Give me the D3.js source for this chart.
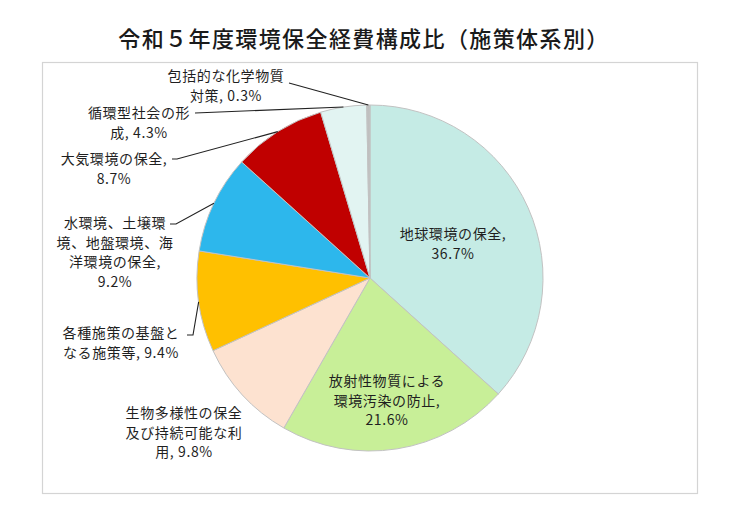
<!DOCTYPE html>
<html>
<head>
<meta charset="utf-8">
<script src="https://cdn.jsdelivr.net/npm/d3@7"></script>
<style>
  html, body { margin: 0; padding: 0; background: #fff; }
  svg { display: block; }
  text { font-family: "Noto Sans CJK JP", "Noto Sans", sans-serif; }
</style>
</head>
<body>
<svg id="chart" width="750" height="519"></svg>
<script>
// ---- data ----
const title = "令和５年度環境保全経費構成比（施策体系別）";
const categories = [
  "地球環境の保全",
  "放射性物質による環境汚染の防止",
  "生物多様性の保全及び持続可能な利用",
  "各種施策の基盤となる施策等",
  "水環境、土壌環境、地盤環境、海洋環境の保全",
  "大気環境の保全",
  "循環型社会の形成",
  "包括的な化学物質対策"
];
const values = [36.7, 21.6, 9.8, 9.4, 9.2, 8.7, 4.3, 0.3];
const colors = ["#c5ebe5", "#c8ef98", "#fde2d0", "#ffc000", "#2db7ec", "#c00000", "#e2f4f2", "#bfbfbf"];
// label line breaks ({v} = value)
const labelLines = [
  ["地球環境の保全,", "{v}%"],
  ["放射性物質による", "環境汚染の防止,", "{v}%"],
  ["生物多様性の保全", "及び持続可能な利", "用, {v}%"],
  ["各種施策の基盤と", "なる施策等, {v}%"],
  ["水環境、土壌環", "境、地盤環境、海", "洋環境の保全,", "{v}%"],
  ["大気環境の保全,", "{v}%"],
  ["循環型社会の形", "成, {v}%"],
  ["包括的な化学物質", "対策, {v}%"]
];

// ---- layout (positions kept separate from data) ----
const W = 750, H = 519;
const cx = 370, cy = 278, R = 173;
const lineH = 19.5;
// label centre x, first line centre y, and leader start points (null = no leader)
const labelLayout = [
  { x: 453, y: 233, leader: null },
  { x: 387, y: 380, leader: null },
  { x: 184, y: 412, leader: null },
  { x: 121, y: 332, leader: [[187, 335], [193, 335]] },
  { x: 115, y: 222, leader: [[170, 224], [176, 224]] },
  { x: 114, y: 158, leader: [[172, 159], [177, 159]] },
  { x: 139, y: 112, leader: [[195, 113]] },
  { x: 226, y: 75,  leader: [[289, 83]] }
];

const svg = d3.select("#chart");

// frame
svg.append("rect")
  .attr("x", 42.5).attr("y", 62.5)
  .attr("width", 655).attr("height", 431)
  .attr("fill", "#fff")
  .attr("stroke", "#d4d4d4").attr("stroke-width", 1.2);

// title
svg.append("text")
  .attr("x", 364).attr("y", 37)
  .attr("text-anchor", "middle")
  .attr("dominant-baseline", "central")
  .attr("font-size", 22)
  .attr("letter-spacing", 1.4)
  .attr("font-weight", 500)
  .attr("fill", "#1a1a1a")
  .text(title);

// pie
const pie = d3.pie().sort(null).value(d => d)
  .startAngle(0).endAngle(2 * Math.PI);
const arcs = pie(values);
const arc = d3.arc().innerRadius(0).outerRadius(R);
const edgeArc = d3.arc().innerRadius(R).outerRadius(R);

const g = svg.append("g").attr("transform", `translate(${cx},${cy})`);
g.selectAll("path.slice")
  .data(arcs)
  .join("path")
  .attr("class", "slice")
  .attr("d", arc)
  .attr("fill", (d, i) => colors[i])
  .attr("stroke", "#c2c2c2")
  .attr("stroke-width", 1);

// leader lines
const line = d3.line();
arcs.forEach((d, i) => {
  const L = labelLayout[i];
  if (!L.leader) return;
  const c = edgeArc.centroid(d);
  const pts = L.leader.concat([[cx + c[0], cy + c[1]]]);
  svg.append("path")
    .attr("d", line(pts))
    .attr("fill", "none")
    .attr("stroke", "#222")
    .attr("stroke-width", 1.1);
});

// labels
arcs.forEach((d, i) => {
  const L = labelLayout[i];
  const t = svg.append("text")
    .attr("text-anchor", "middle")
    .attr("font-size", 14)
    .attr("letter-spacing", 0.6)
    .attr("fill", "#1f1f1f");
  labelLines[i].forEach((s, k) => {
    t.append("tspan")
      .attr("x", L.x)
      .attr("y", L.y + k * lineH)
      .attr("dominant-baseline", "central")
      .text(s.replace("{v}", values[i].toFixed(1)));
  });
});
</script>
</body>
</html>
